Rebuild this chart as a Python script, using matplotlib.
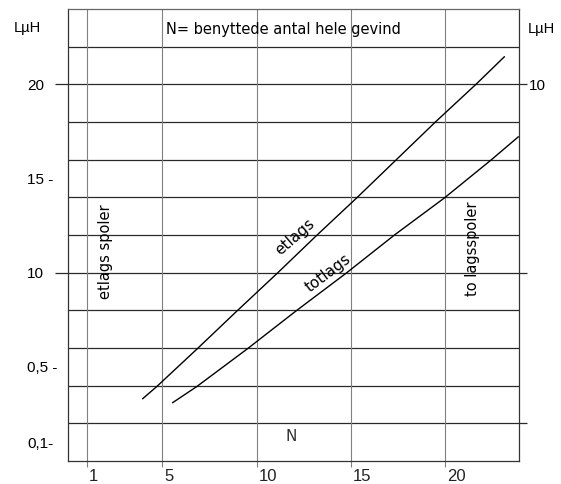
import matplotlib
matplotlib.use("Agg")
import matplotlib.pyplot as plt
import matplotlib.transforms as mtransforms

# number of turns N vs inductance
etlags_n = [3.96, 4.70, 6.85, 8.97, 11.1, 13.2, 15.3, 19.47, 21.64, 23.12]
etlags_l = [3.31, 3.95, 5.96, 7.98, 9.98, 12.0, 13.97, 18.0, 20.02, 21.46]
totlags_n = [5.55, 6.82, 9.51, 12.1, 14.75, 17.3, 19.95, 22.43, 23.86]
totlags_l = [3.10, 3.95, 5.96, 7.98, 9.98, 12.0, 13.97, 15.99, 17.21]

x_ticks = [1, 5, 10, 15, 20]
x_labels = ["1", "5", "10", "15", "20"]
y_major = [20, 10]
y_major_labels = ["20", "10"]
y_minor = [15, 5, 1]
y_minor_labels = ["15 -", "0,5 -", "0,1-"]
right_ticks = [1, 5, 10]
right_labels = ["", "", "10"]
h_grid = [2, 4, 6, 8, 10, 12, 14, 16, 18, 20, 22]

DPI = 100
fig = plt.figure(figsize=(5.61, 4.84), dpi=DPI)
ax = fig.add_axes([68 / 561, 1 - 461 / 484, (519 - 68) / 561, (461 - 9) / 484])
ax.set_xlim(0, 23.9)
ax.set_ylim(0, 24)

# grid
for v in h_grid:
    ax.axhline(v, color="#2a2a2a", lw=0.9, zorder=1)
for v in x_ticks:
    ax.axvline(v, color="#808080", lw=0.8, zorder=1)

# curves
ax.plot(etlags_n, etlags_l, color="black", lw=1.0, zorder=3)
ax.plot(totlags_n, totlags_l, color="black", lw=1.0, zorder=3)

for s in ax.spines.values():
    s.set_color("#333333")
    s.set_linewidth(0.9)
ax.spines["top"].set_color("#666666")

num_font = ["Liberation Sans", "DejaVu Sans"]
narrow_font = ["Liberation Sans Narrow", "Liberation Sans", "DejaVu Sans"]
px = 72 / DPI  # points per pixel

# x axis
ax.set_xticks(x_ticks)
ax.set_xticklabels(x_labels, family=narrow_font, fontsize=12, ha="left", color="#222222")
ax.tick_params(axis="x", length=4, width=0.8, color="#808080", pad=2)
offset = mtransforms.ScaledTranslation(2 / DPI, 0, fig.dpi_scale_trans)
for lab in ax.get_xticklabels():
    lab.set_transform(lab.get_transform() + offset)

# left y axis
ax.set_yticks(y_major)
ax.set_yticklabels(y_major_labels, family=num_font, fontsize=11, ha="left")
ax.set_yticks(y_minor, minor=True)
ax.set_yticklabels(y_minor_labels, minor=True, family=num_font, fontsize=11, ha="left")
ax.tick_params(axis="y", which="major", length=13 * px, width=0.9, color="#2a2a2a",
               pad=(41 - 13) * px)
ax.tick_params(axis="y", which="minor", length=0, pad=41 * px)

# right axis (other scale)
sec = ax.secondary_yaxis("right", functions=(lambda y: y / 2, lambda y: y * 2))
sec.set_yticks(right_ticks)
sec.set_yticklabels(right_labels, family=num_font, fontsize=11)
sec.tick_params(length=8 * px, width=0.9, color="#2a2a2a", pad=2 * px)
sec.spines["right"].set_visible(False)

# texts
fig.text(27 / 561, 1 - 28 / 484, "LµH", family=num_font, fontsize=10.5,
         ha="center", va="center")
fig.text(541 / 561, 1 - 29 / 484, "LµH", family=num_font, fontsize=10.5,
         ha="center", va="center")

ax.text(5.2, 22.9, "N= benyttede antal hele gevind", fontsize=10.5,
        ha="left", va="center")
ax.text(11.84, 1.29, "N", fontsize=11, ha="center", va="center", color="#333333")
ax.text(12.0, 11.9, "etlags", fontsize=11, rotation=41, rotation_mode="anchor",
        ha="center", va="center")
ax.text(13.78, 9.97, "totlags", fontsize=11, rotation=37, rotation_mode="anchor",
        ha="center", va="center")
ax.text(1.97, 11.1, "etlags spoler", fontsize=10.5, rotation=90,
        ha="center", va="center")
ax.text(21.45, 11.26, "to lagsspoler", fontsize=10.5, rotation=90,
        ha="center", va="center")

fig.savefig("out.png", dpi=DPI)
